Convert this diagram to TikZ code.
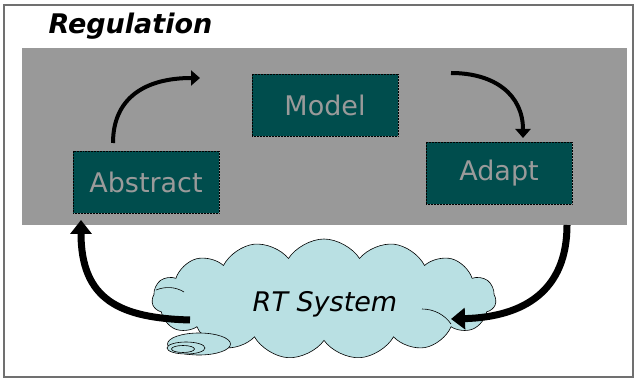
\documentclass[tikz,border=0pt]{standalone}
\usepackage{fontspec}
\setmainfont{DejaVu Sans}
\usetikzlibrary{arrows.meta,shapes.symbols,shapes.geometric}
\definecolor{panelgray}{HTML}{999999}
\definecolor{boxteal}{HTML}{004D4D}
\definecolor{boxtext}{HTML}{9A9A9A}
\definecolor{cloudblue}{HTML}{B9E0E3}
\definecolor{framegray}{HTML}{707070}
\tikzset{
  stagebox/.style={draw=black, densely dotted, line width=0.5pt, fill=boxteal,
    text=boxtext, minimum width=146pt, minimum height=62pt, inner sep=0pt,
    font=\fontsize{27}{27}\selectfont},
  thinflow/.style={line width=4pt, -{Triangle[width=15pt,length=9pt]}},
  thickflow/.style={line width=7pt, -{Triangle[width=21pt,length=14pt]}},
}
\begin{document}
\begin{tikzpicture}[x=1pt,y=-1pt]
  \useasboundingbox (0,0) rectangle (637,379);
  % outer frame and grey panel
  \draw[framegray, line width=1.4pt, fill=white] (4,5) rectangle (633,377);
  \fill[panelgray] (22,48) rectangle (627,225);
  \node[anchor=base west, font=\fontsize{27}{27}\selectfont\bfseries\itshape] (title) at (45,34) {Regulation};

  % stages
  \node[stagebox] (abstract) at (146,182) {Abstract};
  \node[stagebox] (model) at (325,105) {Model};
  \node[stagebox] (adapt) at (499,173) {Adapt};

  % system cloud
  \node[cloud, cloud puffs=15, cloud puff arc=115, aspect=2.9, draw=black, line width=0.6pt,
        fill=cloudblue, minimum width=344pt, minimum height=120pt, inner sep=0pt] (rt) at (324,299) {};
  \node[font=\fontsize{27}{27}\selectfont\itshape, inner sep=0pt] (rtlabel) at (325,304) {RT System};
  % inner puff seams and small thought bubbles
  \draw[line width=0.6pt] (156,290) .. controls (166,286) and (176,287) .. (184,292);
  \draw[line width=0.6pt] (422,309) .. controls (434,309) and (445,315) .. (451,324);
  \node[ellipse, draw=black, fill=cloudblue, line width=0.6pt, minimum width=63pt, minimum height=22pt, inner sep=0pt] (b1) at (199,344) {};
  \node[ellipse, draw=black, fill=cloudblue, line width=0.6pt, minimum width=38pt, minimum height=12pt, inner sep=0pt] (b2) at (186,348) {};
  \node[ellipse, draw=black, line width=0.6pt, minimum width=23pt, minimum height=7pt, inner sep=0pt] (b3) at (183,349) {};

  % flow connectors
  \coordinate (a1s) at (113,143);
  \coordinate (a1e) at (200,78);
  \coordinate (a2s) at (451,73);
  \coordinate (a2e) at (523,138);
  \coordinate (a3s) at (567,225);
  \coordinate (a3e) at (451,319);
  \coordinate (a4s) at (190,320);
  \coordinate (a4e) at (81,220);
  \draw[thinflow] (a1s) .. controls (113,98) and (145,78) .. (a1e);
  \draw[thinflow] (a2s) .. controls (495,73) and (523,95) .. (a2e);
  \draw[thickflow] (a3s) .. controls (567,290) and (525,317) .. (a3e);
  \draw[thickflow] (a4s) .. controls (120,318) and (81,300) .. (a4e);
\end{tikzpicture}
\end{document}
